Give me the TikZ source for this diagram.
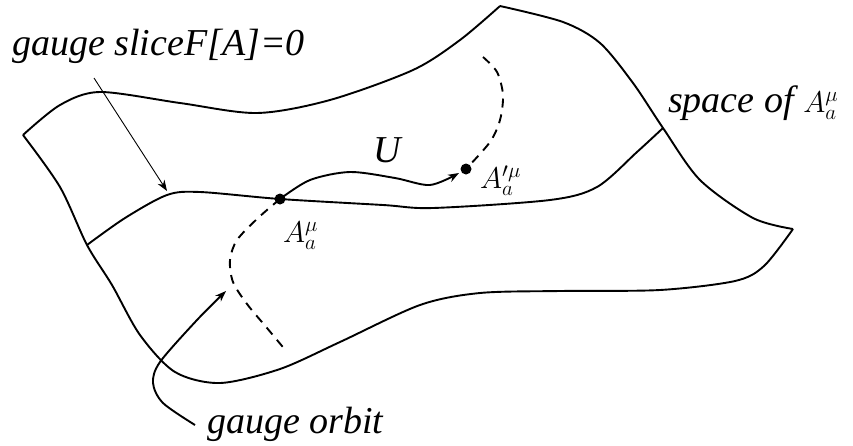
\RequirePackage{fix-cm}
\documentclass[tikz,border=0pt]{standalone}
\usepackage{fontspec}
\setmainfont{Liberation Serif}[ItalicFont=Liberation Serif Italic]
\usetikzlibrary{arrows.meta}

\begin{document}
\begin{tikzpicture}[x=1pt,y=-1pt,>={Stealth[length=11pt,width=8pt]},
        edge/.style={line width=1.9pt},
        orbit/.style={line width=1.9pt,dash pattern=on 9pt off 7pt},
        lbl/.style={inner sep=0pt,font=\fontsize{38}{44}\selectfont\itshape},
        mlbl/.style={inner sep=0pt,font=\fontsize{30}{36}\selectfont}]
    \useasboundingbox (0,0) rectangle (853,445);
    % the surface
    \draw[edge] plot[smooth] coordinates {(23,135) (60,105) (100,92) (180,103) (257,113) (330,100) (413,70) (460,40) (500,6)};
    \draw[edge] plot[smooth] coordinates {(500,6) (563,22) (600,43) (633,83) (663,128) (700,180) (753,218) (793,229)};
    \draw[edge] plot[smooth] coordinates {(793,229) (764,266) (735,281) (660,290) (560,291) (480,293) (420,305) (340,342) (280,369) (220,383) (175,372) (140,335) (112,285) (87,245) (60,187) (23,135)};
    % gauge slice
    \draw[edge] plot[smooth] coordinates {(87,245) (125,218) (167,195) (200,192) (280,199) (383,205) (433,208) (550,200) (597,187) (637,152) (663,128)};
    \coordinate (A) at (280,199);
    \coordinate (Ap) at (466,169);
    % gauge orbit
    \draw[orbit] plot[smooth] coordinates {(483,57) (497,72) (503,95) (500,120) (490,142) (466,169)};
    \draw[orbit] plot[smooth] coordinates {(280,199) (258,218) (237,240) (230,260) (233,282) (247,304) (267,328) (287,352)};
    \draw[edge,->] plot[smooth] coordinates {(280,199) (310,180) (350,172) (395,178) (430,185) (459,173)};
    \fill (A) circle (5.5);
    \fill (Ap) circle (5.5);
    % labels
    \node[lbl,anchor=base west] (slicelbl) at (12,55) {gauge sliceF[A]=0};
    \node[lbl,anchor=base west] (spacelbl) at (668,112) {space of {\fontsize{30}{36}\selectfont$A^\mu_a$}};
    \node[lbl,anchor=base] (ulbl) at (387,162) {U};
    \node[mlbl,anchor=base west] (albl) at (283,242) {$A^\mu_a$};
    \node[mlbl,anchor=base west] (aplbl) at (480,188) {$A'^\mu_a$};
    \node[lbl,anchor=base west] (orbitlbl) at (207,433) {gauge orbit};
    % pointers
    \coordinate (s0) at (94,78);
    \coordinate (s1) at (167,191);
    \draw[line width=0.9pt,->] (s0) -- (s1);
    \draw[edge,->] plot[smooth] coordinates {(195,425) (163,403) (153,383) (160,362) (197,320) (226,291)};
\end{tikzpicture}
\end{document}
